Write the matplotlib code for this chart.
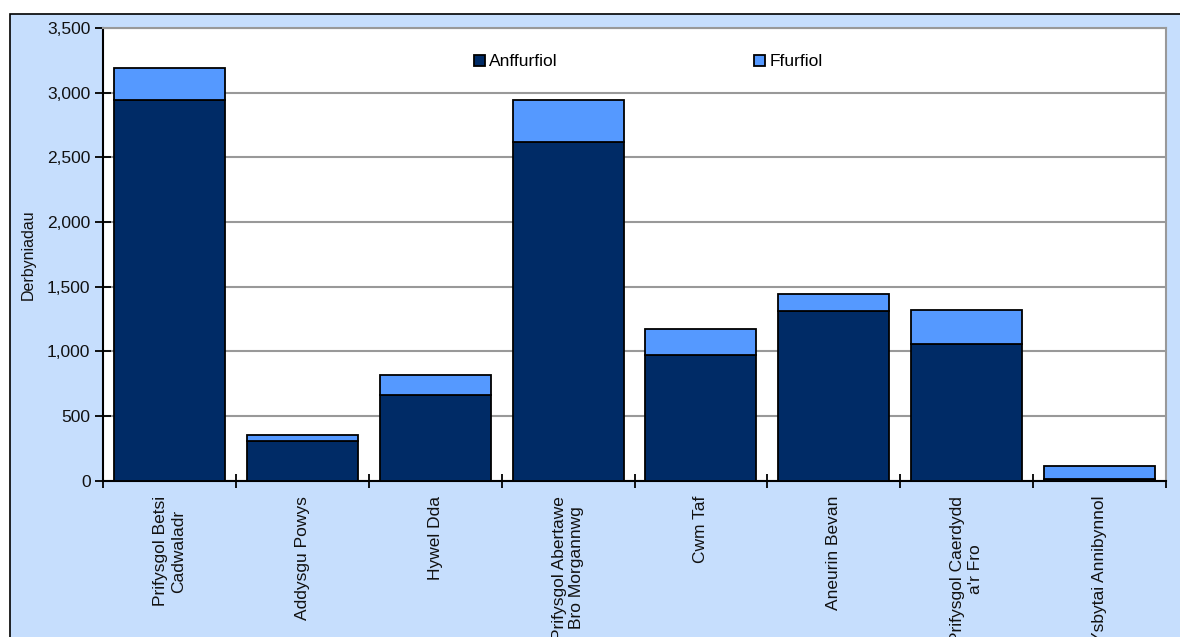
import matplotlib.pyplot as plt
import matplotlib.patches as mpatches
import numpy as np

plt.rcParams['font.family'] = ['Liberation Sans', 'DejaVu Sans']

# data
categories = ["Prifysgol Betsi\nCadwaladr", "Addysgu Powys", "Hywel Dda",
              "Prifysgol Abertawe\nBro Morgannwg", "Cwm Taf", "Aneurin Bevan",
              "Prifysgol Caerdydd\na'r Fro", "Ysbytai Annibynnol"]
anffurfiol = [2940, 310, 665, 2620, 975, 1315, 1060, 15]
ffurfiol = [254, 45, 150, 323, 195, 125, 258, 100]
yticks = [0, 500, 1000, 1500, 2000, 2500, 3000, 3500]

navy = '#002B66'
light = '#5599FF'
bg = '#C6DEFD'

fig = plt.figure(figsize=(11.8, 6.37), dpi=100)
fig.patch.set_facecolor('white')

# chart area frame (runs off right and bottom edge like the original)
frame = mpatches.Rectangle((10/1180, -0.1), 1.2, 1 - 14/637 + 0.1,
                           transform=fig.transFigure, facecolor=bg,
                           edgecolor='black', linewidth=1.2, zorder=-5)
fig.patches.append(frame)

ax = fig.add_axes([103/1180, 1 - 480.7/637, (1166-103)/1180, (480.7-28)/637])
ax.set_facecolor('white')

x = np.arange(len(categories))
w = 0.835
ax.bar(x, anffurfiol, w, color=navy, edgecolor='black', linewidth=1.3,
       label='Anffurfiol', zorder=3)
ax.bar(x, ffurfiol, w, bottom=anffurfiol, color=light, edgecolor='black',
       linewidth=1.3, label='Ffurfiol', zorder=3)

ax.set_xlim(-0.5, len(categories) - 0.5)
ax.set_ylim(0, 3500)
ax.set_yticks(yticks)
ax.set_yticklabels(['{:,}'.format(v) for v in yticks])
ax.yaxis.grid(True, color='#999999', linewidth=1.5, zorder=0)

# ticks sit on category boundaries, labels at the centres
ax.set_xticks(np.arange(len(categories) + 1) - 0.5)
ax.set_xticklabels([])
ax.set_xticks(x, minor=True)
ax.set_xticklabels(categories, minor=True, rotation=90, ha='center',
                   va='top', fontsize=12.5, color='#111111',
                   multialignment='center', linespacing=1.2)
ax.tick_params(axis='x', which='minor', length=0, pad=11)
ax.tick_params(axis='x', which='major', direction='inout', length=10,
               width=1.3, color='black')
ax.tick_params(axis='y', direction='inout', length=12, width=1.3,
               labelsize=12.5, labelcolor='#111111', pad=3)

for s in ['left', 'bottom']:
    ax.spines[s].set_color('black')
    ax.spines[s].set_linewidth(1.5)
for s in ['top', 'right']:
    ax.spines[s].set_color('#999999')
    ax.spines[s].set_linewidth(1.5)

ax.set_ylabel('Derbyniadau', fontsize=11.5, color='#111111', labelpad=8)

leg = ax.legend(loc='center', bbox_to_anchor=(0.513, 0.925), ncol=2,
                frameon=False, fontsize=12.5, handlelength=0.65,
                handleheight=0.65, handletextpad=0.25, columnspacing=11.3)

fig.savefig('out.png', dpi=100, facecolor='white')
